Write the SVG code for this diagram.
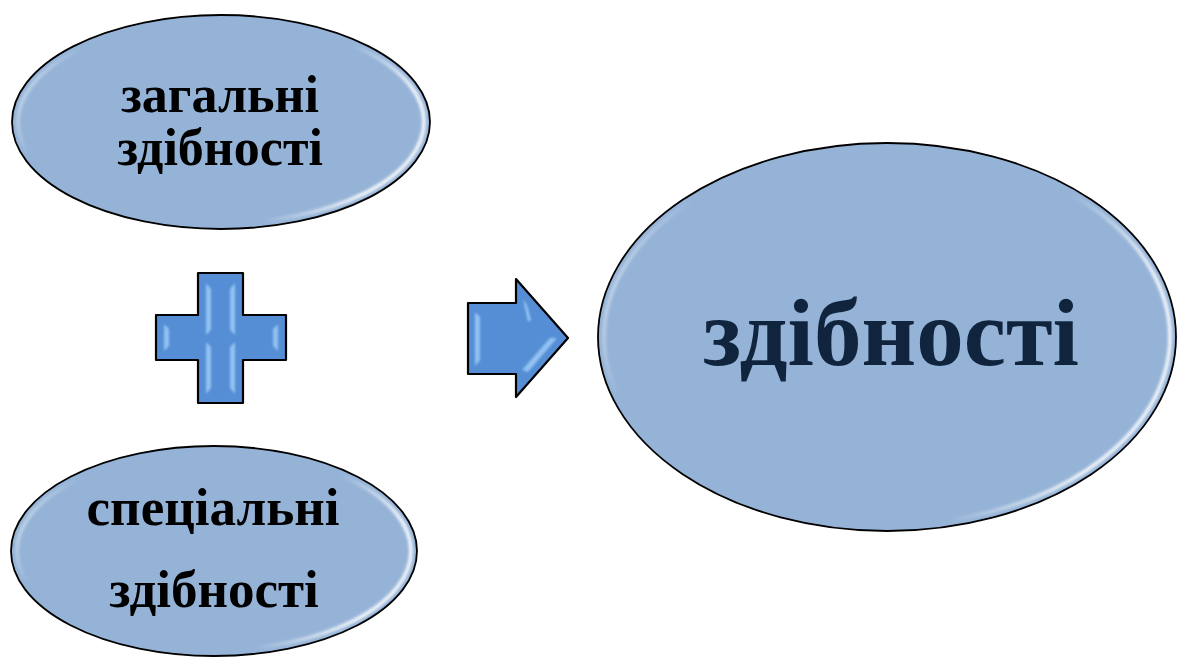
<svg xmlns="http://www.w3.org/2000/svg" width="1177" height="657" viewBox="0 0 1177 657">
  <defs>
    <style>
      .ell { fill: #95B3D7; stroke: #000; stroke-width: 1.8; }
      .hl { fill: none; stroke: url(#rim); stroke-width: 3.5; filter: url(#soft); }
      .shape { fill: #558ED5; stroke: #000; stroke-width: 2.2; stroke-linejoin: round; }
      .bev { fill: #9CCBF7; opacity: 0.85; filter: url(#soft2); }
      .lbl { font-family: "Liberation Serif", "Times New Roman", serif; font-weight: bold; text-anchor: middle; fill: #000; }
      .big { fill: #10243E; }
    </style>
    <linearGradient id="rim" x1="0" y1="0" x2="1" y2="0.25">
      <stop offset="0" stop-color="#ffffff" stop-opacity="0.95"/>
      <stop offset="0.18" stop-color="#ffffff" stop-opacity="0"/>
      <stop offset="0.8" stop-color="#ffffff" stop-opacity="0"/>
      <stop offset="1" stop-color="#ffffff" stop-opacity="0.95"/>
    </linearGradient>
    <filter id="soft" x="-10%" y="-10%" width="120%" height="120%">
      <feGaussianBlur stdDeviation="1.4"/>
    </filter>
    <filter id="soft2" x="-50%" y="-50%" width="200%" height="200%">
      <feGaussianBlur stdDeviation="0.9"/>
    </filter>
  </defs>

  <g id="node-general">
    <ellipse class="ell" cx="221" cy="122" rx="209" ry="107"/>
    <ellipse class="hl" cx="221" cy="122" rx="203" ry="101"/>
    <text class="lbl" x="220" y="112" font-size="52">загальні</text>
    <text class="lbl" x="220" y="165" font-size="52">здібності</text>
  </g>

  <g id="node-special">
    <ellipse class="ell" cx="214" cy="551" rx="203" ry="105"/>
    <ellipse class="hl" cx="214" cy="551" rx="197" ry="99"/>
    <text class="lbl" x="213" y="525" font-size="53">спеціальні</text>
    <text class="lbl" x="214" y="607" font-size="53">здібності</text>
  </g>

  <g id="node-abilities">
    <ellipse class="ell" cx="887" cy="337" rx="289" ry="194"/>
    <ellipse class="hl" cx="887" cy="337" rx="283" ry="188"/>
    <text class="lbl big" x="891" y="365" font-size="95">здібності</text>
  </g>

  <g id="connectors">
    <g id="plus">
      <path class="shape" d="M198,273 H243 V315 H286 V360 H243 V403 H198 V360 H156 V315 H198 Z"/>
      <polygon class="bev" points="206,283 211,289 211,330 206,335"/>
      <polygon class="bev" points="235,283 230,289 230,330 235,335"/>
      <polygon class="bev" points="206,342 211,347 211,388 206,394"/>
      <polygon class="bev" points="235,342 230,347 230,388 235,394"/>
      <polygon class="bev" points="164,324 169,329 169,346 164,351"/>
      <polygon class="bev" points="278,324 273,329 273,346 278,351"/>
    </g>
    <g id="arrow">
      <path class="shape" d="M468,303 H516 V279 L568,338 L516,397 V374 H468 Z"/>
      <polygon class="bev" points="475,312 480,317 480,360 475,366"/>
      <polygon class="bev" points="523,299 527,305 531,320 528,322"/>
      <polygon class="bev" points="550,338 557,338 528,372 522,370"/>
    </g>
  </g>
</svg>
